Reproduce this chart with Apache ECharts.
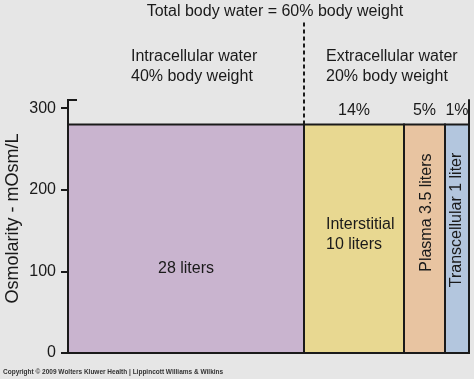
<!DOCTYPE html>
<html>
<head>
<meta charset="utf-8">
<script src="https://cdn.jsdelivr.net/npm/echarts@6/dist/echarts.min.js"></script>
<style>
html,body{margin:0;padding:0;background:#e6e6e6;}
#chart{width:474px;height:379px;}
</style>
</head>
<body>
<div id="chart"></div>
<script>
// ---- data ----
const categories = ['Intracellular', 'Interstitial', 'Plasma', 'Transcellular'];
const osmolarity = [280, 280, 280, 280];          // mOsm/L
const columnWidths = [236, 100, 41, 24];          // relative drawn widths of compartments
const percentLabels = ['', '14%', '5%', '1%'];
const volumeLabels = ['28 liters', 'Interstitial\n10 liters', 'Plasma 3.5 liters', 'Transcellular 1 liter'];
const yTickValues = [0, 100, 200, 300];
const yAxisName = 'Osmolarity - mOsm/L';
const titleText = 'Total body water = 60% body weight';
const groupTexts = ['Intracellular water\n40% body weight', 'Extracellular water\n20% body weight'];
const copyrightText = 'Copyright \u00A9 2009 Wolters Kluwer Health | Lippincott Williams & Wilkins';

// ---- styles ----
const FONT = '"Liberation Sans", Arial, Helvetica, sans-serif';
const colors = ['#c9b4cf', '#e8d891', '#e8c4a1', '#b3c6de'];
const labelStyle = [
  {yVal: 103, rotate: false, align: 'center', dx: 0},
  {yVal: 145, rotate: false, align: 'left', dx: -28},
  {yVal: 172, rotate: true, align: 'center', dx: 2},
  {yVal: 163, rotate: true, align: 'center', dx: 0}
];

const data = [];
let acc = 0;
for (let i = 0; i < categories.length; i++) {
  data.push([acc, acc + columnWidths[i], osmolarity[i], i]);
  acc += columnWidths[i];
}
const xMax = acc;

const chart = echarts.init(document.getElementById('chart'));
chart.setOption({
  backgroundColor: '#e6e6e6',
  textStyle: {fontFamily: FONT},
  animation: false,
  grid: {left: 68, right: 5, top: 100, bottom: 26, containLabel: false, outerBoundsMode: 'none'},
  xAxis: {
    type: 'value', min: 0, max: xMax,
    axisLine: {show: true, lineStyle: {color: '#1a1a1a', width: 2}},
    axisTick: {show: false}, axisLabel: {show: false}, splitLine: {show: false}
  },
  yAxis: [{
    type: 'value', min: 0, max: 310,
    name: yAxisName, nameLocation: 'middle', nameGap: 46, nameMoveOverlap: false,
    nameTextStyle: {fontSize: 18, color: '#1a1a1a', fontFamily: FONT, padding: [0, 0, 0, 16]},
    axisLine: {show: true, lineStyle: {color: '#1a1a1a', width: 2}},
    axisTick: {show: true, length: 7, customValues: yTickValues, lineStyle: {color: '#1a1a1a', width: 2}},
    axisLabel: {show: true, customValues: yTickValues, fontSize: 16, color: '#1a1a1a', margin: 12, fontFamily: FONT},
    splitLine: {show: false}
  }, {
    type: 'value', min: 0, max: 310, position: 'right',
    axisLine: {show: true, lineStyle: {color: '#1a1a1a', width: 2}},
    axisTick: {show: false}, axisLabel: {show: false}, splitLine: {show: false}
  }],
  series: [{
    type: 'custom',
    clip: false,
    data: data,
    renderItem: function (params, api) {
      const x0 = api.value(0), x1 = api.value(1), v = api.value(2), idx = api.value(3);
      const pTop = api.coord([x0, v]);
      const pBot = api.coord([x1, 0]);
      const w = pBot[0] - pTop[0];
      const h = pBot[1] - pTop[1];
      const cx = pTop[0] + w / 2;
      const ls = labelStyle[idx];
      const ly = api.coord([x0, ls.yVal])[1];
      const children = [{
        type: 'rect',
        shape: {x: pTop[0], y: pTop[1], width: w, height: h},
        style: {fill: colors[idx], stroke: '#1a1a1a', lineWidth: 2}
      }];
      children.push({
        type: 'text',
        x: cx + ls.dx,
        y: ly,
        rotation: ls.rotate ? Math.PI / 2 : 0,
        style: {
          text: volumeLabels[idx], fontSize: 16, fontFamily: FONT, fill: '#1a1a1a',
          align: ls.align, verticalAlign: 'middle', lineHeight: 20
        }
      });
      if (percentLabels[idx]) {
        children.push({
          type: 'text', x: cx, y: pTop[1] - 14,
          style: {text: percentLabels[idx], fontSize: 16, fontFamily: FONT, fill: '#1a1a1a', align: 'center', verticalAlign: 'middle'}
        });
      }
      if (idx === 0) {
        children.push({
          type: 'line',
          shape: {x1: pBot[0], y1: pTop[1], x2: pBot[0], y2: 22},
          style: {stroke: '#1a1a1a', lineWidth: 2, lineDash: [4, 3]}
        });
      }
      return {type: 'group', children: children};
    }
  }],
  graphic: [
    {type: 'text', x: 275, y: 12,
     style: {text: titleText, fontSize: 16, fontFamily: FONT, fill: '#1a1a1a', align: 'center', verticalAlign: 'middle'}},
    {type: 'text', x: 131, y: 67,
     style: {text: groupTexts[0], fontSize: 16, fontFamily: FONT, fill: '#1a1a1a', lineHeight: 20, verticalAlign: 'middle'}},
    {type: 'text', x: 326, y: 67,
     style: {text: groupTexts[1], fontSize: 16, fontFamily: FONT, fill: '#1a1a1a', lineHeight: 20, verticalAlign: 'middle'}},
    {type: 'line', shape: {x1: 67, y1: 100, x2: 77, y2: 100}, style: {stroke: '#1a1a1a', lineWidth: 2}},
    {type: 'text', x: 3, y: 369,
     style: {text: copyrightText, fontSize: 6.5, fontWeight: 'bold', fontFamily: FONT, fill: '#333'}}
  ]
});
</script>
</body>
</html>
